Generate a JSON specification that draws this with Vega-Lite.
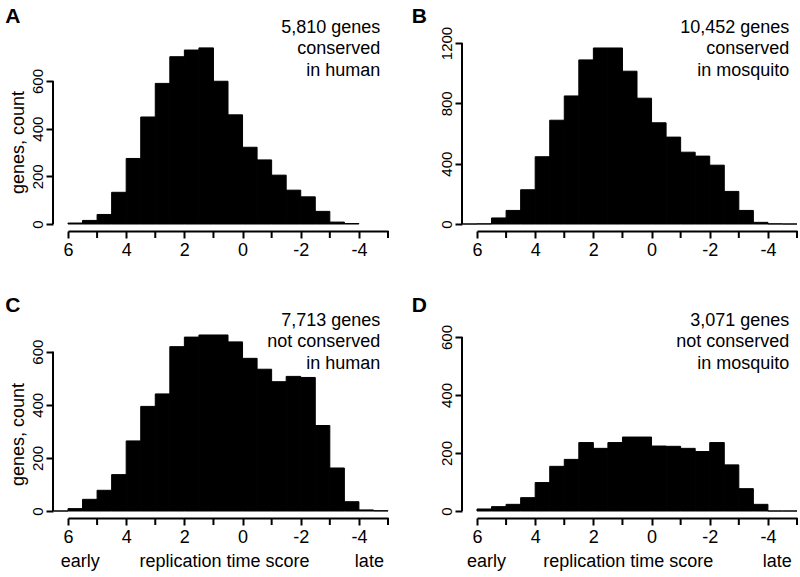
{
  "$schema": "https://vega.github.io/schema/vega-lite/v6.json",
  "padding": {"left": 5, "top": 5, "right": 0, "bottom": 0},
  "background": "white",
  "config": {
    "font": "Liberation Sans",
    "locale": {"number": {"decimal": ".", "thousands": ",", "grouping": [3], "currency": ["$", ""], "minus": "-"}},
    "view": {"stroke": null},
    "axis": {"grid": false, "domainColor": "black", "tickColor": "black", "labelColor": "black", "titleColor": "black", "domainWidth": 2, "tickWidth": 2, "tickSize": 7, "labelFontSize": 18, "titleFontSize": 18, "titleFontWeight": "normal"},
    "axisX": {"labelOverlap": false, "labelFlush": false}
  },
  "datasets": {
    "minor": [{"v": 5}, {"v": 3}, {"v": 1}, {"v": -1}, {"v": -3}, {"v": -5}],
    "hist": [
      {"p": "A", "hi": 6, "lo": 5.5, "n": 4}, {"p": "A", "hi": 5.5, "lo": 5, "n": 15}, {"p": "A", "hi": 5, "lo": 4.5, "n": 40}, {"p": "A", "hi": 4.5, "lo": 4, "n": 133},
      {"p": "A", "hi": 4, "lo": 3.5, "n": 275}, {"p": "A", "hi": 3.5, "lo": 3, "n": 449}, {"p": "A", "hi": 3, "lo": 2.5, "n": 590}, {"p": "A", "hi": 2.5, "lo": 2, "n": 702},
      {"p": "A", "hi": 2, "lo": 1.5, "n": 730}, {"p": "A", "hi": 1.5, "lo": 1, "n": 739}, {"p": "A", "hi": 1, "lo": 0.5, "n": 599}, {"p": "A", "hi": 0.5, "lo": 0, "n": 458},
      {"p": "A", "hi": 0, "lo": -0.5, "n": 322}, {"p": "A", "hi": -0.5, "lo": -1, "n": 269}, {"p": "A", "hi": -1, "lo": -1.5, "n": 205}, {"p": "A", "hi": -1.5, "lo": -2, "n": 142},
      {"p": "A", "hi": -2, "lo": -2.5, "n": 114}, {"p": "A", "hi": -2.5, "lo": -3, "n": 53}, {"p": "A", "hi": -3, "lo": -3.5, "n": 8}, {"p": "A", "hi": -3.5, "lo": -4, "n": 2},

      {"p": "B", "hi": 6.5, "lo": 6, "n": 0}, {"p": "B", "hi": 6, "lo": 5.5, "n": 1}, {"p": "B", "hi": 5.5, "lo": 5, "n": 40}, {"p": "B", "hi": 5, "lo": 4.5, "n": 90},
      {"p": "B", "hi": 4.5, "lo": 4, "n": 227}, {"p": "B", "hi": 4, "lo": 3.5, "n": 446}, {"p": "B", "hi": 3.5, "lo": 3, "n": 688}, {"p": "B", "hi": 3, "lo": 2.5, "n": 849},
      {"p": "B", "hi": 2.5, "lo": 2, "n": 1088}, {"p": "B", "hi": 2, "lo": 1.5, "n": 1167}, {"p": "B", "hi": 1.5, "lo": 1, "n": 1167}, {"p": "B", "hi": 1, "lo": 0.5, "n": 1013},
      {"p": "B", "hi": 0.5, "lo": 0, "n": 834}, {"p": "B", "hi": 0, "lo": -0.5, "n": 671}, {"p": "B", "hi": -0.5, "lo": -1, "n": 576}, {"p": "B", "hi": -1, "lo": -1.5, "n": 476},
      {"p": "B", "hi": -1.5, "lo": -2, "n": 450}, {"p": "B", "hi": -2, "lo": -2.5, "n": 390}, {"p": "B", "hi": -2.5, "lo": -3, "n": 216}, {"p": "B", "hi": -3, "lo": -3.5, "n": 90},
      {"p": "B", "hi": -3.5, "lo": -4, "n": 11}, {"p": "B", "hi": -4, "lo": -4.5, "n": 1}, {"p": "B", "hi": -4.5, "lo": -5, "n": 0},

      {"p": "C", "hi": 6.5, "lo": 6, "n": 0}, {"p": "C", "hi": 6, "lo": 5.5, "n": 9}, {"p": "C", "hi": 5.5, "lo": 5, "n": 44}, {"p": "C", "hi": 5, "lo": 4.5, "n": 78},
      {"p": "C", "hi": 4.5, "lo": 4, "n": 137}, {"p": "C", "hi": 4, "lo": 3.5, "n": 264}, {"p": "C", "hi": 3.5, "lo": 3, "n": 394}, {"p": "C", "hi": 3, "lo": 2.5, "n": 441},
      {"p": "C", "hi": 2.5, "lo": 2, "n": 619}, {"p": "C", "hi": 2, "lo": 1.5, "n": 655}, {"p": "C", "hi": 1.5, "lo": 1, "n": 663}, {"p": "C", "hi": 1, "lo": 0.5, "n": 663},
      {"p": "C", "hi": 0.5, "lo": 0, "n": 637}, {"p": "C", "hi": 0, "lo": -0.5, "n": 575}, {"p": "C", "hi": -0.5, "lo": -1, "n": 534}, {"p": "C", "hi": -1, "lo": -1.5, "n": 487},
      {"p": "C", "hi": -1.5, "lo": -2, "n": 507}, {"p": "C", "hi": -2, "lo": -2.5, "n": 503}, {"p": "C", "hi": -2.5, "lo": -3, "n": 322}, {"p": "C", "hi": -3, "lo": -3.5, "n": 162},
      {"p": "C", "hi": -3.5, "lo": -4, "n": 35}, {"p": "C", "hi": -4, "lo": -4.5, "n": 4}, {"p": "C", "hi": -4.5, "lo": -5, "n": 1},

      {"p": "D", "hi": 6, "lo": 5.5, "n": 7}, {"p": "D", "hi": 5.5, "lo": 5, "n": 15}, {"p": "D", "hi": 5, "lo": 4.5, "n": 23}, {"p": "D", "hi": 4.5, "lo": 4, "n": 46},
      {"p": "D", "hi": 4, "lo": 3.5, "n": 98}, {"p": "D", "hi": 3.5, "lo": 3, "n": 154}, {"p": "D", "hi": 3, "lo": 2.5, "n": 178}, {"p": "D", "hi": 2.5, "lo": 2, "n": 236},
      {"p": "D", "hi": 2, "lo": 1.5, "n": 216}, {"p": "D", "hi": 1.5, "lo": 1, "n": 236}, {"p": "D", "hi": 1, "lo": 0.5, "n": 255}, {"p": "D", "hi": 0.5, "lo": 0, "n": 255},
      {"p": "D", "hi": 0, "lo": -0.5, "n": 224}, {"p": "D", "hi": -0.5, "lo": -1, "n": 223}, {"p": "D", "hi": -1, "lo": -1.5, "n": 216}, {"p": "D", "hi": -1.5, "lo": -2, "n": 205},
      {"p": "D", "hi": -2, "lo": -2.5, "n": 236}, {"p": "D", "hi": -2.5, "lo": -3, "n": 159}, {"p": "D", "hi": -3, "lo": -3.5, "n": 77}, {"p": "D", "hi": -3.5, "lo": -4, "n": 23},
      {"p": "D", "hi": -4, "lo": -4.5, "n": 0}, {"p": "D", "hi": -4.5, "lo": -5, "n": 0}
    ]
  },
  "columns": 2,
  "spacing": {"column": 22, "row": 35},
  "concat": [
    {
      "width": 320, "height": 185,
      "data": {"name": "hist"},
      "transform": [{"filter": "datum.p === 'A'"}],
      "layer": [
        {
          "mark": {"type": "bar", "color": "black", "stroke": "black", "strokeWidth": 1},
          "encoding": {
            "x": {"field": "hi", "type": "quantitative", "scale": {"domain": [-5, 6], "reverse": true, "nice": false, "zero": false},
                  "axis": {"values": [6, 4, 2, 0, -2, -4], "offset": 7, "title": null, "labelPadding": 3}},
            "x2": {"field": "lo"},
            "y": {"field": "n", "type": "quantitative", "scale": {"domain": [0, 776.3], "nice": false},
                  "axis": {"values": [0, 200, 400, 600], "format": "d", "title": "genes, count", "offset": 15, "domain": false, "labelAngle": 270, "labelAlign": "center", "labelBaseline": "bottom", "labelPadding": 1, "labelFontSize": 15, "titlePadding": 3, "titleY": 103}},
            "y2": {"datum": 0}
          }
        },
        {
          "data": {"name": "minor"},
          "mark": {"type": "rule", "color": "black", "strokeWidth": 2},
          "encoding": {"x": {"field": "v", "type": "quantitative"}, "y": {"datum": -29.4}, "y2": {"datum": -58.75}}
        },
        {
          "data": {"values": [{}]},
          "mark": {"type": "rule", "color": "black", "strokeWidth": 2},
          "encoding": {"x": {"datum": 6.515}, "y": {"datum": 0}, "y2": {"datum": 600}}
        },
        {
          "data": {"values": [{"t": "5,810 genes\nconserved\nin human"}]},
          "mark": {"type": "text", "align": "right", "baseline": "alphabetic", "fontSize": 18, "lineHeight": 21.5, "lineBreak": "\n", "color": "black"},
          "encoding": {"x": {"datum": -4.735}, "y": {"datum": 801.5}, "text": {"field": "t"}}
        },
        {
          "data": {"values": [{"t": "A"}]},
          "mark": {"type": "text", "align": "left", "baseline": "alphabetic", "fontSize": 21, "fontWeight": "bold", "color": "black"},
          "encoding": {"x": {"datum": 8.155}, "y": {"datum": 843.5}, "text": {"field": "t"}}
        }
      ]
    },
    {
      "width": 320, "height": 185,
      "data": {"name": "hist"},
      "transform": [{"filter": "datum.p === 'B'"}],
      "layer": [
        {
          "mark": {"type": "bar", "color": "black", "stroke": "black", "strokeWidth": 1},
          "encoding": {
            "x": {"field": "hi", "type": "quantitative", "scale": {"domain": [-5, 6], "reverse": true, "nice": false, "zero": false},
                  "axis": {"values": [6, 4, 2, 0, -2, -4], "offset": 7, "title": null, "labelPadding": 3}},
            "x2": {"field": "lo"},
            "y": {"field": "n", "type": "quantitative", "scale": {"domain": [0, 1226.5], "nice": false},
                  "axis": {"values": [0, 400, 800, 1200], "format": "d", "title": null, "offset": 15, "domain": false, "labelAngle": 270, "labelAlign": "center", "labelBaseline": "bottom", "labelPadding": 1, "labelFontSize": 15}},
            "y2": {"datum": 0}
          }
        },
        {
          "data": {"name": "minor"},
          "mark": {"type": "rule", "color": "black", "strokeWidth": 2},
          "encoding": {"x": {"field": "v", "type": "quantitative"}, "y": {"datum": -46.4}, "y2": {"datum": -92.8}}
        },
        {
          "data": {"values": [{}]},
          "mark": {"type": "rule", "color": "black", "strokeWidth": 2},
          "encoding": {"x": {"datum": 6.515}, "y": {"datum": 0}, "y2": {"datum": 1200}}
        },
        {
          "data": {"values": [{"t": "10,452 genes\nconserved\nin mosquito"}]},
          "mark": {"type": "text", "align": "right", "baseline": "alphabetic", "fontSize": 18, "lineHeight": 21.5, "lineBreak": "\n", "color": "black"},
          "encoding": {"x": {"datum": -4.735}, "y": {"datum": 1266.3}, "text": {"field": "t"}}
        },
        {
          "data": {"values": [{"t": "B"}]},
          "mark": {"type": "text", "align": "left", "baseline": "alphabetic", "fontSize": 21, "fontWeight": "bold", "color": "black"},
          "encoding": {"x": {"datum": 8.245}, "y": {"datum": 1332.6}, "text": {"field": "t"}}
        }
      ]
    },
    {
      "width": 320, "height": 179,
      "data": {"name": "hist"},
      "transform": [{"filter": "datum.p === 'C'"}],
      "layer": [
        {
          "mark": {"type": "bar", "color": "black", "stroke": "black", "strokeWidth": 1},
          "encoding": {
            "x": {"field": "hi", "type": "quantitative", "scale": {"domain": [-5, 6], "reverse": true, "nice": false, "zero": false},
                  "axis": {"values": [6, 4, 2, 0, -2, -4], "offset": 7, "title": null, "labelPadding": 3}},
            "x2": {"field": "lo"},
            "y": {"field": "n", "type": "quantitative", "scale": {"domain": [0, 674.2], "nice": false},
                  "axis": {"values": [0, 200, 400, 600], "format": "d", "title": "genes, count", "offset": 15, "domain": false, "labelAngle": 270, "labelAlign": "center", "labelBaseline": "bottom", "labelPadding": 1, "labelFontSize": 15, "titlePadding": 3, "titleY": 102}},
            "y2": {"datum": 0}
          }
        },
        {
          "data": {"name": "minor"},
          "mark": {"type": "rule", "color": "black", "strokeWidth": 2},
          "encoding": {"x": {"field": "v", "type": "quantitative"}, "y": {"datum": -26.4}, "y2": {"datum": -52.7}}
        },
        {
          "data": {"values": [{}]},
          "mark": {"type": "rule", "color": "black", "strokeWidth": 2},
          "encoding": {"x": {"datum": 6.515}, "y": {"datum": 0}, "y2": {"datum": 600}}
        },
        {
          "data": {"values": [{"t": "7,713 genes\nnot conserved\nin human"}]},
          "mark": {"type": "text", "align": "right", "baseline": "alphabetic", "fontSize": 18, "lineHeight": 21.5, "lineBreak": "\n", "color": "black"},
          "encoding": {"x": {"datum": -4.735}, "y": {"datum": 696.8}, "text": {"field": "t"}}
        },
        {
          "data": {"values": [{"t": "C"}]},
          "mark": {"type": "text", "align": "left", "baseline": "alphabetic", "fontSize": 21, "fontWeight": "bold", "color": "black"},
          "encoding": {"x": {"datum": 8.155}, "y": {"datum": 749.5}, "text": {"field": "t"}}
        },
        {
          "data": {"values": [{"t": "early"}]},
          "mark": {"type": "text", "align": "center", "baseline": "alphabetic", "fontSize": 18, "color": "black"},
          "encoding": {"x": {"datum": 5.58}, "y": {"datum": -210.9}, "text": {"field": "t"}}
        },
        {
          "data": {"values": [{"t": "replication time score"}]},
          "mark": {"type": "text", "align": "center", "baseline": "alphabetic", "fontSize": 18, "color": "black"},
          "encoding": {"x": {"datum": 0.62}, "y": {"datum": -210.9}, "text": {"field": "t"}}
        },
        {
          "data": {"values": [{"t": "late"}]},
          "mark": {"type": "text", "align": "center", "baseline": "alphabetic", "fontSize": 18, "color": "black"},
          "encoding": {"x": {"datum": -4.36}, "y": {"datum": -210.9}, "text": {"field": "t"}}
        }
      ]
    },
    {
      "width": 320, "height": 179,
      "data": {"name": "hist"},
      "transform": [{"filter": "datum.p === 'D'"}],
      "layer": [
        {
          "mark": {"type": "bar", "color": "black", "stroke": "black", "strokeWidth": 1},
          "encoding": {
            "x": {"field": "hi", "type": "quantitative", "scale": {"domain": [-5, 6], "reverse": true, "nice": false, "zero": false},
                  "axis": {"values": [6, 4, 2, 0, -2, -4], "offset": 7, "title": null, "labelPadding": 3}},
            "x2": {"field": "lo"},
            "y": {"field": "n", "type": "quantitative", "scale": {"domain": [0, 617.2], "nice": false},
                  "axis": {"values": [0, 200, 400, 600], "format": "d", "title": null, "offset": 15, "domain": false, "labelAngle": 270, "labelAlign": "center", "labelBaseline": "bottom", "labelPadding": 1, "labelFontSize": 15}},
            "y2": {"datum": 0}
          }
        },
        {
          "data": {"name": "minor"},
          "mark": {"type": "rule", "color": "black", "strokeWidth": 2},
          "encoding": {"x": {"field": "v", "type": "quantitative"}, "y": {"datum": -24.1}, "y2": {"datum": -48.3}}
        },
        {
          "data": {"values": [{}]},
          "mark": {"type": "rule", "color": "black", "strokeWidth": 2},
          "encoding": {"x": {"datum": 6.515}, "y": {"datum": 0}, "y2": {"datum": 600}}
        },
        {
          "data": {"values": [{"t": "3,071 genes\nnot conserved\nin mosquito"}]},
          "mark": {"type": "text", "align": "right", "baseline": "alphabetic", "fontSize": 18, "lineHeight": 21.5, "lineBreak": "\n", "color": "black"},
          "encoding": {"x": {"datum": -4.735}, "y": {"datum": 637.9}, "text": {"field": "t"}}
        },
        {
          "data": {"values": [{"t": "D"}]},
          "mark": {"type": "text", "align": "left", "baseline": "alphabetic", "fontSize": 21, "fontWeight": "bold", "color": "black"},
          "encoding": {"x": {"datum": 8.245}, "y": {"datum": 686.2}, "text": {"field": "t"}}
        },
        {
          "data": {"values": [{"t": "early"}]},
          "mark": {"type": "text", "align": "center", "baseline": "alphabetic", "fontSize": 18, "color": "black"},
          "encoding": {"x": {"datum": 5.67}, "y": {"datum": -193.1}, "text": {"field": "t"}}
        },
        {
          "data": {"values": [{"t": "replication time score"}]},
          "mark": {"type": "text", "align": "center", "baseline": "alphabetic", "fontSize": 18, "color": "black"},
          "encoding": {"x": {"datum": 0.8}, "y": {"datum": -193.1}, "text": {"field": "t"}}
        },
        {
          "data": {"values": [{"t": "late"}]},
          "mark": {"type": "text", "align": "center", "baseline": "alphabetic", "fontSize": 18, "color": "black"},
          "encoding": {"x": {"datum": -4.32}, "y": {"datum": -193.1}, "text": {"field": "t"}}
        }
      ]
    }
  ]
}
